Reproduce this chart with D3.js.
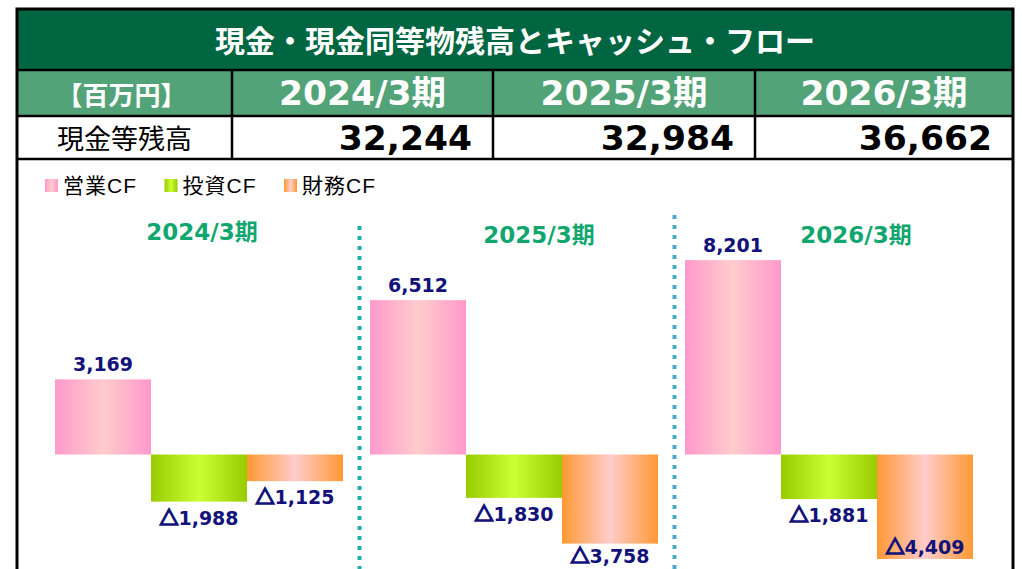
<!DOCTYPE html>
<html>
<head>
<meta charset="utf-8">
<script src="https://cdn.jsdelivr.net/npm/d3@7"></script>
<style>
  body { margin: 0; background: #fff; }
  #chart { width: 1022px; height: 569px; overflow: hidden; }
</style>
</head>
<body>
<div id="chart"></div>
<script>
'use strict';

(function() {

  // values (百万円)
  const periods = ["2024/3期", "2025/3期", "2026/3期"];
  const cashBalance = [32244, 32984, 36662];
  const cfTypes = ["営業CF", "投資CF", "財務CF"];
  const operatingCF = [3169, 6512, 8201];
  const investingCF = [-1988, -1830, -1881];
  const financingCF = [-1125, -3758, -4409];

  const m = {
    width: 1022,
    height: 569,
    left: 17,
    right: 1013,
    top: 9
  };

  const fontJp = '"Noto Sans CJK JP", sans-serif';
  const fontNum = '"DejaVu Sans", "Noto Sans CJK JP", sans-serif';
  const fontLegend = '"Liberation Sans", "Noto Sans CJK JP", sans-serif';
  const navy = "#12127a";

  const gradients = {
    "営業CF": ["#ff99cc", "#ffcccc", "#ff99cc"],
    "投資CF": ["#99cc00", "#ccff33", "#99cc00"],
    "財務CF": ["#ff9933", "#ffcccc", "#ff9933"]
  };

  let svg = "";

  window.onload = function() {
    svg = d3.select('#chart')
      .append('svg')
      .attr('width', m.width)
      .attr('height', m.height);

    makeGradients();
    makeTable();
    makeLegend();
    plotData();
  };

  function makeGradients() {
    let defs = svg.append('defs');
    cfTypes.forEach(function(t, i) {
      let g = defs.append('linearGradient')
        .attr('id', 'grad' + i)
        .attr('x1', 0).attr('x2', 1)
        .attr('y1', 0).attr('y2', 0);
      gradients[t].forEach(function(c, j) {
        g.append('stop')
          .attr('offset', j / 2)
          .attr('stop-color', c);
      });
    });
  }

  function makeTable() {
    let colEdges = [m.left, 232, 493, 755, m.right];

    svg.append('rect')
      .attr('x', m.left).attr('y', m.top)
      .attr('width', m.right - m.left).attr('height', 61)
      .attr('fill', '#006641');

    svg.append('rect')
      .attr('x', m.left).attr('y', 70)
      .attr('width', m.right - m.left).attr('height', 46)
      .attr('fill', '#53a378');

    // frame
    svg.append('rect')
      .attr('x', m.left).attr('y', m.top)
      .attr('width', m.right - m.left).attr('height', 600)
      .attr('fill', 'none')
      .attr('stroke', '#000')
      .attr('stroke-width', 3);

    [70, 116, 159].forEach(function(y) {
      svg.append('line')
        .attr('x1', m.left).attr('x2', m.right)
        .attr('y1', y).attr('y2', y)
        .attr('stroke', '#000')
        .attr('stroke-width', 2.5);
    });

    colEdges.slice(1, 4).forEach(function(x) {
      svg.append('line')
        .attr('x1', x).attr('x2', x)
        .attr('y1', 70).attr('y2', 159)
        .attr('stroke', '#000')
        .attr('stroke-width', 2.5);
    });

    svg.append('text')
      .attr('x', (m.left + m.right) / 2)
      .attr('y', 39)
      .attr('text-anchor', 'middle')
      .attr('dominant-baseline', 'central')
      .style('font-family', fontJp)
      .style('font-weight', 'bold')
      .style('font-size', '30px')
      .attr('fill', '#fff')
      .text("現金・現金同等物残高とキャッシュ・フロー");

    svg.append('text')
      .attr('x', (colEdges[0] + colEdges[1]) / 2 - 3)
      .attr('y', 93)
      .attr('text-anchor', 'middle')
      .attr('dominant-baseline', 'central')
      .style('font-family', fontJp)
      .style('font-weight', 'bold')
      .style('font-size', '26px')
      .attr('fill', '#fff')
      .text("【百万円】");

    svg.append('text')
      .attr('x', (colEdges[0] + colEdges[1]) / 2)
      .attr('y', 137)
      .attr('text-anchor', 'middle')
      .attr('dominant-baseline', 'central')
      .style('font-family', fontJp)
      .style('font-size', '27px')
      .attr('fill', '#000')
      .text("現金等残高");

    svg.selectAll('.headYear')
      .data(periods)
      .enter()
      .append('text')
      .attr('class', 'headYear')
      .attr('x', function(d, i) { return (colEdges[i + 1] + colEdges[i + 2]) / 2; })
      .attr('y', 93)
      .attr('text-anchor', 'middle')
      .attr('dominant-baseline', 'central')
      .style('font-family', fontNum)
      .style('font-weight', 'bold')
      .style('font-size', '34.5px')
      .attr('fill', '#fff')
      .text(function(d) { return d; });

    svg.selectAll('.cash')
      .data(cashBalance)
      .enter()
      .append('text')
      .attr('class', 'cash')
      .attr('x', function(d, i) { return colEdges[i + 2] - 21; })
      .attr('y', 138)
      .attr('text-anchor', 'end')
      .attr('dominant-baseline', 'central')
      .style('font-family', fontNum)
      .style('font-weight', 'bold')
      .style('font-size', '34.5px')
      .attr('fill', '#000')
      .text(function(d) { return d3.format(",")(d); });
  }

  function makeLegend() {
    let item = svg.selectAll('.legend')
      .data(cfTypes)
      .enter()
      .append('g')
      .attr('class', 'legend')
      .attr('transform', function(d, i) { return 'translate(' + (45 + i * 119.5) + ', 0)'; });

    item.append('rect')
      .attr('x', 0).attr('y', 179)
      .attr('width', 13).attr('height', 13)
      .attr('fill', function(d, i) { return 'url(#grad' + i + ')'; });

    item.append('text')
      .attr('x', 18)
      .attr('y', 185)
      .attr('dominant-baseline', 'central')
      .style('font-family', fontLegend)
      .style('font-size', '21px')
      .style('letter-spacing', '1px')
      .attr('fill', '#000')
      .text(function(d) { return d; });
  }

  function plotData() {
    let rows = periods.map(function(p, i) {
      return {
        period: p,
        values: [operatingCF[i], investingCF[i], financingCF[i]]
      };
    });

    let xGroup = d3.scaleBand()
      .domain(periods)
      .range([41.5, 986.5])
      .paddingInner(0.0857)
      .paddingOuter(0.0429);

    let xType = d3.scaleBand()
      .domain(cfTypes)
      .range([0, xGroup.bandwidth()])
      .padding(0);

    let yScale = d3.scaleLinear()
      .domain([-4800, 8800])
      .range([568.3, 245.9]);

    let fmt = d3.format(",");

    // dotted separators between periods
    let sepColors = ["#1ab0ae", "#4bacc6"];
    let sepTop = [226, 215];
    for (let i = 0; i < periods.length - 1; i++) {
      let a = xGroup(periods[i]) + xGroup.bandwidth();
      let b = xGroup(periods[i + 1]);
      let x = (a + b) / 2 + 3;
      svg.append('line')
        .attr('x1', x).attr('x2', x)
        .attr('y1', sepTop[i]).attr('y2', m.height)
        .attr('stroke', sepColors[i])
        .attr('stroke-width', 4)
        .attr('stroke-dasharray', '4,6');
    }

    // period titles
    let periodShift = [3, 25, 27];
    let periodY = [232, 235, 235];
    svg.selectAll('.periodLabel')
      .data(periods)
      .enter()
      .append('text')
      .attr('class', 'periodLabel')
      .attr('x', function(d, i) { return xGroup(d) + xGroup.bandwidth() / 2 + periodShift[i]; })
      .attr('y', function(d, i) { return periodY[i]; })
      .attr('text-anchor', 'middle')
      .attr('dominant-baseline', 'central')
      .style('font-family', fontNum)
      .style('font-weight', 'bold')
      .style('font-size', '23px')
      .attr('fill', '#11a66f')
      .text(function(d) { return d; });

    let groups = svg.selectAll('.group')
      .data(rows)
      .enter()
      .append('g')
      .attr('class', 'group')
      .attr('transform', function(d) { return 'translate(' + xGroup(d.period) + ', 0)'; });

    let cells = groups.selectAll('.bar')
      .data(function(d) {
        return d.values.map(function(v, j) { return { type: cfTypes[j], idx: j, value: v }; });
      })
      .enter();

    cells.append('rect')
      .attr('class', 'bar')
      .attr('x', function(d) { return xType(d.type); })
      .attr('y', function(d) { return yScale(Math.max(0, d.value)); })
      .attr('width', xType.bandwidth())
      .attr('height', function(d) { return Math.abs(yScale(d.value) - yScale(0)); })
      .attr('fill', function(d) { return 'url(#grad' + d.idx + ')'; });

    let labels = cells.append('text')
      .attr('x', function(d) { return xType(d.type) + xType.bandwidth() / 2; })
      .attr('y', function(d) {
        if (d.value >= 0) return yScale(d.value) - 8;
        let y = yScale(d.value) + 23;
        return y > m.height ? yScale(d.value) - 5 : Math.min(y, 563);
      })
      .attr('text-anchor', 'middle')
      .style('font-family', fontNum)
      .style('font-weight', 'bold')
      .style('font-size', '19px')
      .attr('fill', navy);

    labels.filter(function(d) { return d.value < 0; })
      .append('tspan')
      .style('font-family', fontJp)
      .style('font-weight', '900')
      .attr('stroke', navy)
      .attr('stroke-width', 1.6)
      .text("△");

    labels.append('tspan')
      .text(function(d) { return fmt(Math.abs(d.value)); });
  }

})();
</script>
</body>
</html>
